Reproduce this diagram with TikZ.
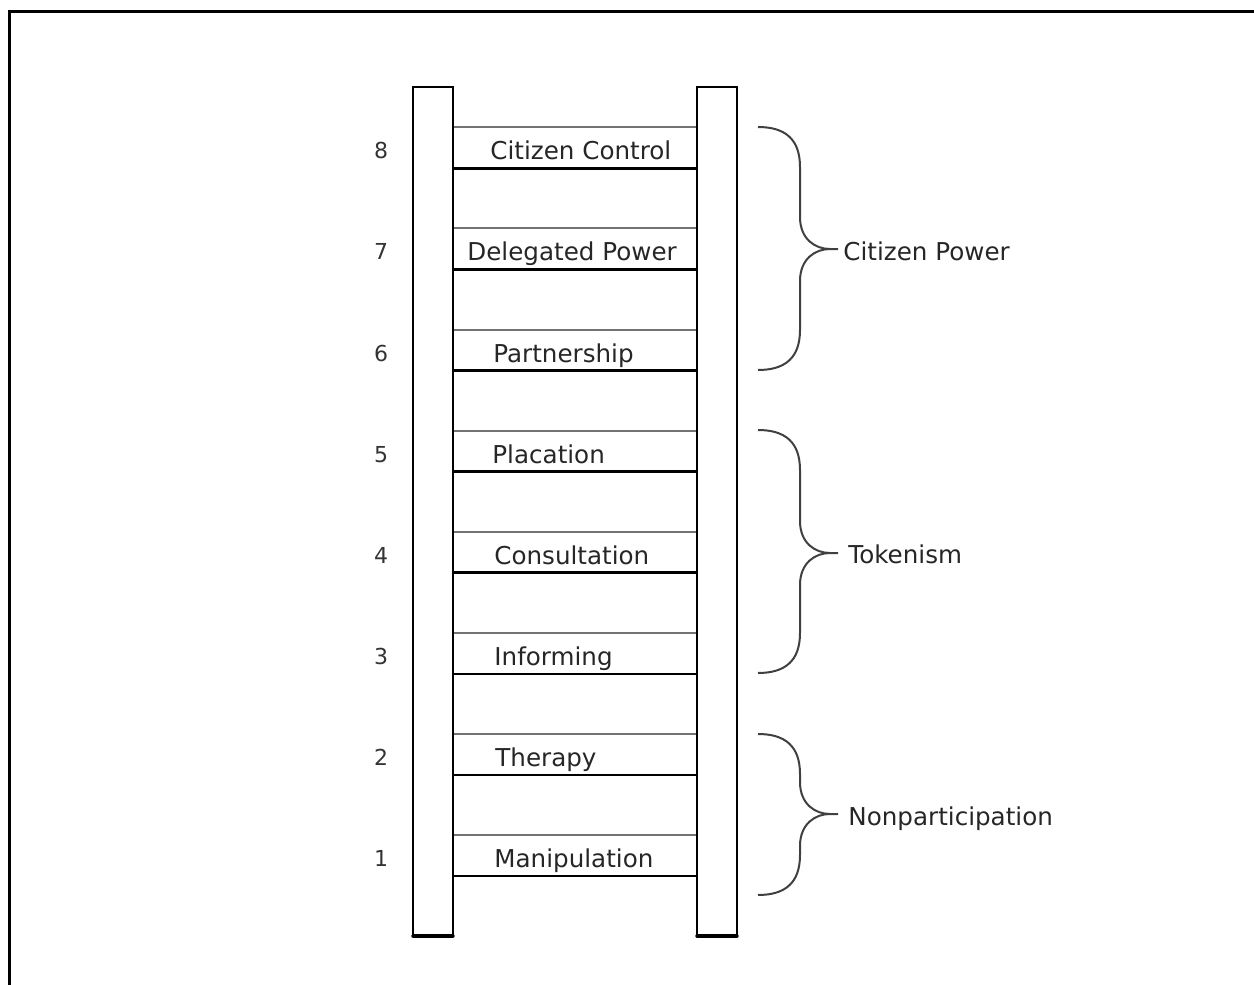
\documentclass[tikz,border=0pt]{standalone}
\usepackage{fontspec}
\setmainfont{DejaVu Sans}
\begin{document}
\begin{tikzpicture}[x=0.5pt,y=-0.5pt,
  rail/.style={draw=black,line width=1pt,fill=white},
  railbase/.style={draw=black,line width=1.7pt,line cap=round},
  rungtop/.style={draw=black!55,line width=1pt},
  rungbot/.style={draw=black,line width=1.3pt},
  lbl/.style={anchor=base west,inner sep=0pt,font=\fontsize{12.3}{14}\selectfont,text=black!85},
  num/.style={anchor=base,inner sep=0pt,font=\fontsize{11}{13}\selectfont,text=black!80},
  brace/.style={draw=black!75,line width=1pt},
  grp/.style={anchor=base west,inner sep=0pt,font=\fontsize{12.3}{14}\selectfont,text=black!85}]
\useasboundingbox (0,0) rectangle (1254,985);
% open frame
\draw[line width=1.4pt] (9.7,985) -- (9.7,11.5) -- (1254,11.5);
% rails
\draw[rail] (413,87) rectangle (453,936);
\draw[rail] (697,87) rectangle (737,936);
\draw[railbase] (413,936) -- (453,936);
\draw[railbase] (697,936) -- (737,936);
% rungs, labels, numbers
\foreach \k/\t/\x in {8/Citizen Control/490,7/Delegated Power/467,6/Partnership/493,5/Placation/492,4/Consultation/494,3/Informing/494,2/Therapy/495,1/Manipulation/494}{
  \pgfmathsetmacro\yt{127.3+(8-\k)*101.1}
  \pgfmathsetmacro\yb{\yt+41}
  \draw[rungtop] (454,\yt) -- (696,\yt);
  \draw[rungbot] (454,\yb) -- (696,\yb);
  \node[lbl] (r\k) at (\x,\yb-8.5) {\t};
  \node[num] (n\k) at (381,\yb-9.5) {\k};
}
% braces
\newcommand\ladderbrace[3]{%
  \draw[brace] (758,#1) .. controls (785,#1) and (800,#1+12) .. (800,#1+40) -- (800,#2-32) .. controls (800,#2-10) and (815,#2) .. (830,#2) -- (838,#2);
  \draw[brace] (830,#2) .. controls (815,#2) and (800,#2+10) .. (800,#2+32) -- (800,#3-40) .. controls (800,#3-12) and (785,#3) .. (758,#3);
}
\ladderbrace{127}{249}{370}
\ladderbrace{430}{553}{673}
\ladderbrace{734}{814}{895}
\node[grp] (cp) at (843,260) {Citizen Power};
\node[grp] (tk) at (848,563) {Tokenism};
\node[grp] (np) at (848,825) {Nonparticipation};
\end{tikzpicture}
\end{document}
